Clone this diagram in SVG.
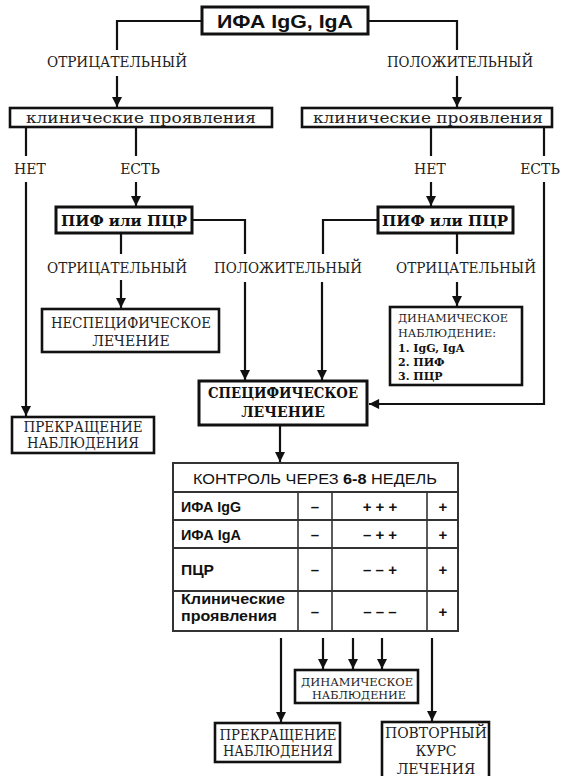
<svg xmlns="http://www.w3.org/2000/svg" width="561" height="776" viewBox="0 0 561 776">
<defs>
<marker id="ah" viewBox="0 0 10 10" refX="10" refY="5" markerWidth="5" markerHeight="4.6" orient="auto" markerUnits="strokeWidth">
<path d="M0,0 L10,5 L0,10 z" fill="#111"/>
</marker>
<style>
.bx{fill:#fff;stroke:#111;stroke-width:2.6}
.bt{fill:#fff;stroke:#111;stroke-width:3}
.ln{fill:none;stroke:#111;stroke-width:2.2}
.ar{fill:none;stroke:#111;stroke-width:2.2;marker-end:url(#ah)}
.s{font-family:"DejaVu Serif","Liberation Serif",serif;fill:#222;text-anchor:middle}
.sb{font-family:"DejaVu Serif","Liberation Serif",serif;fill:#111;font-weight:bold;text-anchor:middle}
.h{font-family:"Liberation Sans",Arial,sans-serif;fill:#111;font-weight:bold;text-anchor:middle}
.t{font-family:"Liberation Sans",Arial,sans-serif;fill:#111}
.tl{fill:none;stroke:#333;stroke-width:2}
</style>
</defs>
<rect width="561" height="776" fill="#fff"/>

<g id="connectors">
<polyline class="ln" points="202,21 117,21 117,50"/>
<line class="ar" x1="117" y1="76" x2="117" y2="107"/>
<polyline class="ln" points="368,21 457,21 457,50"/>
<line class="ar" x1="457" y1="76" x2="457" y2="107"/>
<line class="ln" x1="26" y1="127" x2="26" y2="156"/>
<line class="ln" x1="136" y1="127" x2="136" y2="156"/>
<line class="ar" x1="26" y1="182" x2="26" y2="416"/>
<line class="ar" x1="136" y1="182" x2="136" y2="206"/>
<line class="ln" x1="431" y1="127" x2="431" y2="156"/>
<line class="ln" x1="544" y1="127" x2="544" y2="156"/>
<line class="ar" x1="431" y1="182" x2="431" y2="206"/>
<polyline class="ar" points="544,182 544,404 369,404"/>
<polyline class="ln" points="192,220 245,220 245,254"/>
<line class="ln" x1="121" y1="233" x2="121" y2="254"/>
<polyline class="ln" points="378,220 323,220 323,254"/>
<line class="ln" x1="457" y1="233" x2="457" y2="254"/>
<line class="ar" x1="121" y1="280" x2="121" y2="308"/>
<line class="ar" x1="245" y1="282" x2="245" y2="380"/>
<line class="ar" x1="322" y1="282" x2="322" y2="380"/>
<line class="ar" x1="457" y1="282" x2="457" y2="306"/>
<line class="ar" x1="280" y1="425" x2="280" y2="462"/>
<line class="ar" x1="281" y1="638" x2="281" y2="722"/>
<line class="ar" x1="323" y1="638" x2="323" y2="669"/>
<line class="ar" x1="353" y1="638" x2="353" y2="669"/>
<line class="ar" x1="382" y1="638" x2="382" y2="669"/>
<line class="ar" x1="432" y1="638" x2="432" y2="721"/>
</g>

<g id="labels">
<text class="s" x="117" y="67" font-size="14" textLength="140" lengthAdjust="spacingAndGlyphs">ОТРИЦАТЕЛЬНЫЙ</text>
<text class="s" x="460" y="67" font-size="14" textLength="146" lengthAdjust="spacingAndGlyphs">ПОЛОЖИТЕЛЬНЫЙ</text>
<text class="s" x="30" y="174" font-size="14">НЕТ</text>
<text class="s" x="140" y="174" font-size="14">ЕСТЬ</text>
<text class="s" x="430" y="174" font-size="14">НЕТ</text>
<text class="s" x="540" y="174" font-size="14">ЕСТЬ</text>
<text class="s" x="117" y="273" font-size="14" textLength="140" lengthAdjust="spacingAndGlyphs">ОТРИЦАТЕЛЬНЫЙ</text>
<text class="s" x="288" y="273" font-size="14" textLength="148" lengthAdjust="spacingAndGlyphs">ПОЛОЖИТЕЛЬНЫЙ</text>
<text class="s" x="466" y="273" font-size="14" textLength="140" lengthAdjust="spacingAndGlyphs">ОТРИЦАТЕЛЬНЫЙ</text>
</g>

<g id="n-ifa">
<rect class="bt" x="202" y="7" width="166" height="27"/>
<text class="h" x="285" y="28" font-size="19" textLength="136" lengthAdjust="spacingAndGlyphs">ИФА IgG, IgA</text>
</g>

<g id="n-clin-left">
<rect class="bx" x="10" y="108" width="262" height="19"/>
<text class="s" x="141" y="123" font-size="15" textLength="230" lengthAdjust="spacingAndGlyphs">клинические проявления</text>
</g>

<g id="n-clin-right">
<rect class="bx" x="302" y="108" width="250" height="19"/>
<text class="s" x="428" y="123" font-size="15" textLength="230" lengthAdjust="spacingAndGlyphs">клинические проявления</text>
</g>

<g id="n-pif-left">
<rect class="bt" x="56" y="207" width="136" height="26"/>
<text class="sb" x="124" y="226" font-size="15.5" textLength="126" lengthAdjust="spacingAndGlyphs">ПИФ или ПЦР</text>
</g>

<g id="n-pif-right">
<rect class="bt" x="378" y="207" width="135" height="26"/>
<text class="sb" x="445" y="226" font-size="15.5" textLength="126" lengthAdjust="spacingAndGlyphs">ПИФ или ПЦР</text>
</g>

<g id="n-nonspec">
<rect class="bx" x="42" y="309" width="177" height="43"/>
<text class="s" x="131" y="328" font-size="14" textLength="160" lengthAdjust="spacingAndGlyphs">НЕСПЕЦИФИЧЕСКОЕ</text>
<text class="s" x="131" y="346" font-size="14">ЛЕЧЕНИЕ</text>
</g>

<g id="n-dyn1">
<rect class="bx" x="390" y="307" width="132" height="78"/>
<g font-family="'DejaVu Serif','Liberation Serif',serif" font-size="11" fill="#222">
<text x="398" y="322" textLength="110" lengthAdjust="spacingAndGlyphs">ДИНАМИЧЕСКОЕ</text>
<text x="398" y="337" textLength="98" lengthAdjust="spacingAndGlyphs">НАБЛЮДЕНИЕ:</text>
<text x="398" y="352" font-weight="bold" fill="#111">1. IgG, IgA</text>
<text x="398" y="366" font-weight="bold" fill="#111">2. ПИФ</text>
<text x="398" y="380" font-weight="bold" fill="#111">3. ПЦР</text>
</g>
</g>

<g id="n-spec">
<rect class="bt" x="199" y="381" width="168" height="44"/>
<text class="sb" x="283" y="398" font-size="14" textLength="150" lengthAdjust="spacingAndGlyphs">СПЕЦИФИЧЕСКОЕ</text>
<text class="sb" x="283" y="417" font-size="14">ЛЕЧЕНИЕ</text>
</g>

<g id="n-stop1">
<rect class="bx" x="12" y="417" width="142" height="36"/>
<text class="s" x="83" y="432" font-size="14" textLength="119" lengthAdjust="spacingAndGlyphs">ПРЕКРАЩЕНИЕ</text>
<text class="s" x="83" y="448" font-size="14" textLength="112" lengthAdjust="spacingAndGlyphs">НАБЛЮДЕНИЯ</text>
</g>

<g id="n-table">
<rect x="173" y="463" width="285" height="168" fill="#fff"/>
<text class="t" x="315" y="484" font-size="15" text-anchor="middle" textLength="244" lengthAdjust="spacingAndGlyphs">КОНТРОЛЬ ЧЕРЕЗ <tspan font-weight="bold">6-8</tspan> НЕДЕЛЬ</text>
<g class="tl">
<rect x="173" y="463" width="285" height="168"/>
<line x1="173" y1="492" x2="458" y2="492"/>
<line x1="173" y1="520" x2="458" y2="520"/>
<line x1="173" y1="548" x2="458" y2="548"/>
<line x1="173" y1="591" x2="458" y2="591"/>
<line x1="298" y1="492" x2="298" y2="631" stroke-width="1.6"/>
<line x1="332" y1="492" x2="332" y2="631" stroke-width="1.6"/>
<line x1="427" y1="492" x2="427" y2="631" stroke-width="1.6"/>
</g>
<g class="t" font-size="15" font-weight="bold">
<text x="181" y="512" textLength="60" lengthAdjust="spacingAndGlyphs">ИФА IgG</text>
<text x="181" y="540" textLength="60" lengthAdjust="spacingAndGlyphs">ИФА IgA</text>
<text x="181" y="575" textLength="33" lengthAdjust="spacingAndGlyphs">ПЦР</text>
<text x="181" y="604" font-size="14" textLength="104" lengthAdjust="spacingAndGlyphs">Клинические</text>
<text x="181" y="621" font-size="14" textLength="96" lengthAdjust="spacingAndGlyphs">проявления</text>
</g>
<g class="t" font-size="15" font-weight="bold" text-anchor="middle">
<text x="315" y="512">–</text>
<text x="380" y="512">+ + +</text>
<text x="443" y="512">+</text>
<text x="315" y="540">–</text>
<text x="380" y="540">–  + +</text>
<text x="443" y="540">+</text>
<text x="315" y="575">–</text>
<text x="380" y="575">– – +</text>
<text x="443" y="575">+</text>
<text x="315" y="617">–</text>
<text x="380" y="617">– – –</text>
<text x="443" y="617">+</text>
</g>
</g>

<g id="n-dyn2">
<rect class="bx" x="295" y="670" width="123" height="33"/>
<text class="s" x="357" y="686" font-size="11.5" textLength="112" lengthAdjust="spacingAndGlyphs">ДИНАМИЧЕСКОЕ</text>
<text class="s" x="359" y="699" font-size="11.5" textLength="94" lengthAdjust="spacingAndGlyphs">НАБЛЮДЕНИЕ</text>
</g>

<g id="n-stop2">
<rect class="bx" x="215" y="723" width="125" height="39"/>
<text class="s" x="278" y="740" font-size="14" textLength="117" lengthAdjust="spacingAndGlyphs">ПРЕКРАЩЕНИЕ</text>
<text class="s" x="278" y="756" font-size="14" textLength="110" lengthAdjust="spacingAndGlyphs">НАБЛЮДЕНИЯ</text>
</g>

<g id="n-repeat">
<rect class="bx" x="382" y="722" width="107" height="60"/>
<text class="s" x="436" y="738" font-size="14" textLength="102" lengthAdjust="spacingAndGlyphs">ПОВТОРНЫЙ</text>
<text class="s" x="436" y="756" font-size="14">КУРС</text>
<text class="s" x="436" y="774" font-size="14">ЛЕЧЕНИЯ</text>
</g>
</svg>
